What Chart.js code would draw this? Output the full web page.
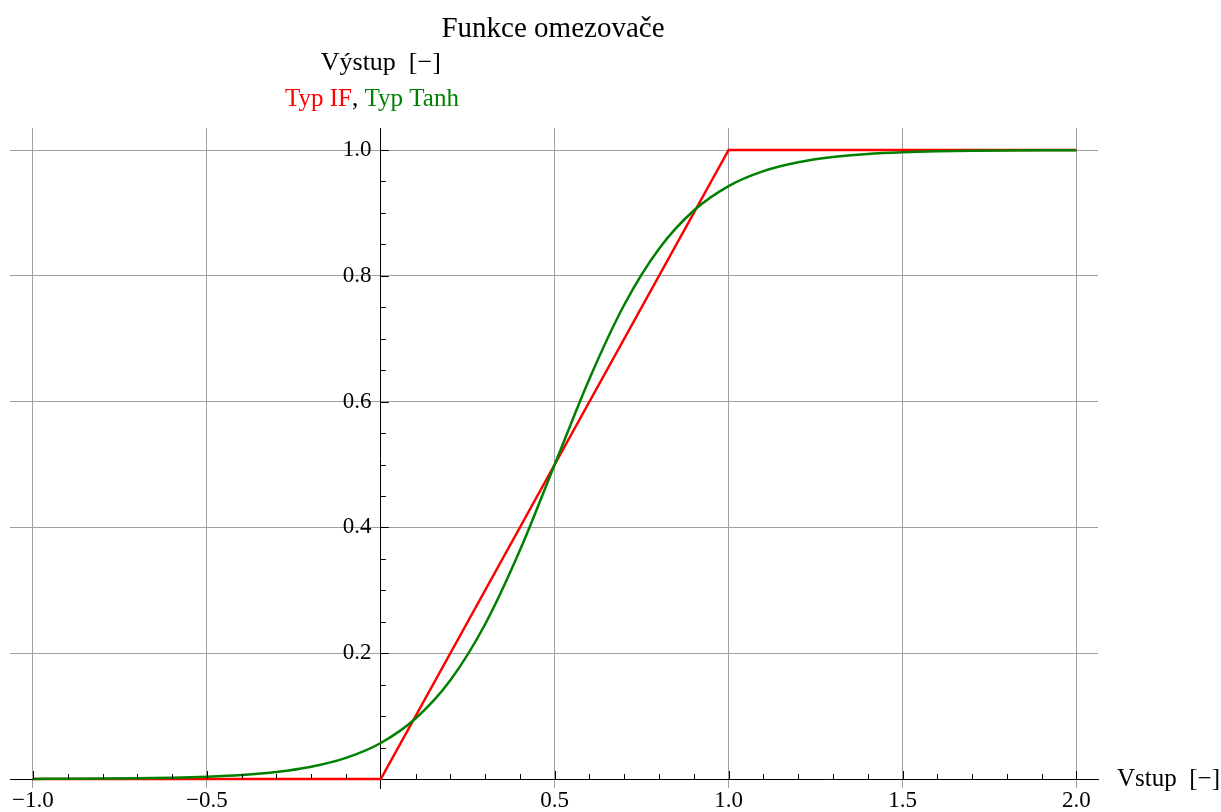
<!DOCTYPE html>
<html>
<head>
<meta charset="utf-8">
<title>Funkce omezovače</title>
<script src="https://cdn.jsdelivr.net/npm/chart.js@4.4.1/dist/chart.umd.min.js"></script>
<style>
  html, body { margin: 0; padding: 0; background: #fff; }
  #obal { width: 1221px; height: 812px; position: relative; }
</style>
</head>
<body>
<div id="obal"><canvas id="graf"></canvas></div>
<script>
// omezovač typu IF (lomená čára)
const vstupIF = [-1.0, 0.0, 1.0, 2.0];
const vystupIF = [0, 0, 1, 1];

// omezovač typu Tanh
const vstupTanh = [-1.0, -0.9, -0.8, -0.7, -0.6, -0.5, -0.4, -0.3, -0.2, -0.1,
    0.0, 0.1, 0.2, 0.3, 0.4, 0.5, 0.6, 0.7, 0.8, 0.9,
    1.0, 1.1, 1.2, 1.3, 1.4, 1.5, 1.6, 1.7, 1.8, 1.9, 2.0];
const vystupTanh = [0.0002, 0.0004, 0.0007, 0.0012, 0.0021, 0.0037, 0.0064, 0.0112, 0.0195, 0.0336,
    0.0573, 0.0962, 0.157, 0.246, 0.3635, 0.5, 0.6365, 0.754, 0.843, 0.9038,
    0.9427, 0.9664, 0.9805, 0.9888, 0.9936, 0.9963, 0.9979, 0.9988, 0.9993, 0.9996, 0.9998];

// popisky os
const popiskyX = [-1.0, -0.5, 0.5, 1.0, 1.5, 2.0];
const popiskyY = [0.2, 0.4, 0.6, 0.8, 1.0];

const PISMO = '"Liberation Serif", "Times New Roman", serif';
const MRIZKA = '#a0a0a0';

function body(xs, ys) {
    return xs.map((x, i) => ({ x: x, y: ys[i] }));
}

function formatCisla(v) {
    return v.toFixed(1).replace('-', '\u2212');
}

// drobné značky na osách a texty kolem grafu
const doplnky = {
    id: 'doplnky',
    afterDatasetsDraw(chart) {
        const ctx = chart.ctx;
        const sx = chart.scales.x;
        const sy = chart.scales.y;
        const x0 = sx.getPixelForValue(0);
        const y0 = sy.getPixelForValue(0);
        ctx.save();
        ctx.strokeStyle = '#000';
        ctx.lineWidth = 1;
        ctx.beginPath();
        for (let i = -10; i <= 20; i++) {
            if (i === 0) continue;
            const px = Math.round(sx.getPixelForValue(i / 10)) + 0.5;
            const delka = (i % 5 === 0) ? 8 : 5;
            ctx.moveTo(px, y0);
            ctx.lineTo(px, y0 - delka);
        }
        for (let j = 1; j <= 20; j++) {
            const py = Math.round(sy.getPixelForValue(j / 20)) + 0.5;
            const delka = (j % 4 === 0) ? 8 : 5;
            ctx.moveTo(x0, py);
            ctx.lineTo(x0 + delka, py);
        }
        ctx.stroke();
        ctx.restore();
    },
    afterDraw(chart) {
        const ctx = chart.ctx;
        const sx = chart.scales.x;
        const sy = chart.scales.y;
        const x0 = sx.getPixelForValue(0);
        const y0 = sy.getPixelForValue(0);
        ctx.save();
        ctx.fillStyle = '#000';
        ctx.textBaseline = 'alphabetic';

        ctx.font = '29px ' + PISMO;
        ctx.textAlign = 'center';
        ctx.fillText('Funkce omezovače', 553, 37);

        ctx.font = '26px ' + PISMO;
        ctx.fillText('Výstup  [\u2212]', x0, 70);

        ctx.font = '25px ' + PISMO;
        ctx.textAlign = 'left';
        ctx.textBaseline = 'middle';
        ctx.fillText('Vstup  [\u2212]', chart.chartArea.right + 19, y0);

        // legenda
        ctx.font = '25px ' + PISMO;
        ctx.textBaseline = 'alphabetic';
        let lx = 285;
        const casti = [['Typ IF', '#ff0000'], [', ', '#000'], ['Typ Tanh', '#008000']];
        casti.forEach(([text, barva]) => {
            ctx.fillStyle = barva;
            ctx.fillText(text, lx, 106);
            lx += ctx.measureText(text).width;
        });
        ctx.restore();
    }
};

new Chart(document.getElementById('graf'), {
    type: 'line',
    data: {
        datasets: [
            {
                label: 'Typ IF',
                data: body(vstupIF, vystupIF),
                borderColor: '#ff0000',
                borderWidth: 2.5,
                pointRadius: 0,
                tension: 0,
                order: 1
            },
            {
                label: 'Typ Tanh',
                data: body(vstupTanh, vystupTanh),
                borderColor: '#008000',
                borderWidth: 2.5,
                pointRadius: 0,
                cubicInterpolationMode: 'monotone',
                order: 0
            }
        ]
    },
    options: {
        responsive: true,
        maintainAspectRatio: false,
        animation: false,
        layout: { padding: { left: 10, top: 128, right: 123, bottom: 24 } },
        plugins: {
            legend: { display: false },
            title: { display: false },
            tooltip: { enabled: false }
        },
        scales: {
            x: {
                type: 'linear',
                min: -1.066,
                max: 2.062,
                position: { y: 0 },
                afterFit: s => { s.height = 0; },
                afterBuildTicks: s => { s.ticks = popiskyX.map(v => ({ value: v })); },
                grid: { color: MRIZKA, lineWidth: 1, drawTicks: false },
                border: { display: true, color: '#000', width: 1 },
                ticks: {
                    padding: 8,
                    maxRotation: 0,
                    autoSkip: false,
                    color: '#000',
                    font: { family: PISMO, size: 23 },
                    callback: v => formatCisla(v)
                }
            },
            y: {
                type: 'linear',
                min: -0.0143,
                max: 1.035,
                position: { x: 0 },
                afterFit: s => { s.width = 0; },
                afterBuildTicks: s => { s.ticks = popiskyY.map(v => ({ value: v })); },
                grid: { color: MRIZKA, lineWidth: 1, drawTicks: false },
                border: { display: true, color: '#000', width: 1 },
                ticks: {
                    padding: 8,
                    autoSkip: false,
                    color: '#000',
                    font: { family: PISMO, size: 23 },
                    // mezera za číslem odsadí popisek od osy
                    callback: v => formatCisla(v) + '\u2009\u2009'
                }
            }
        }
    },
    plugins: [doplnky]
});
</script>
</body>
</html>
